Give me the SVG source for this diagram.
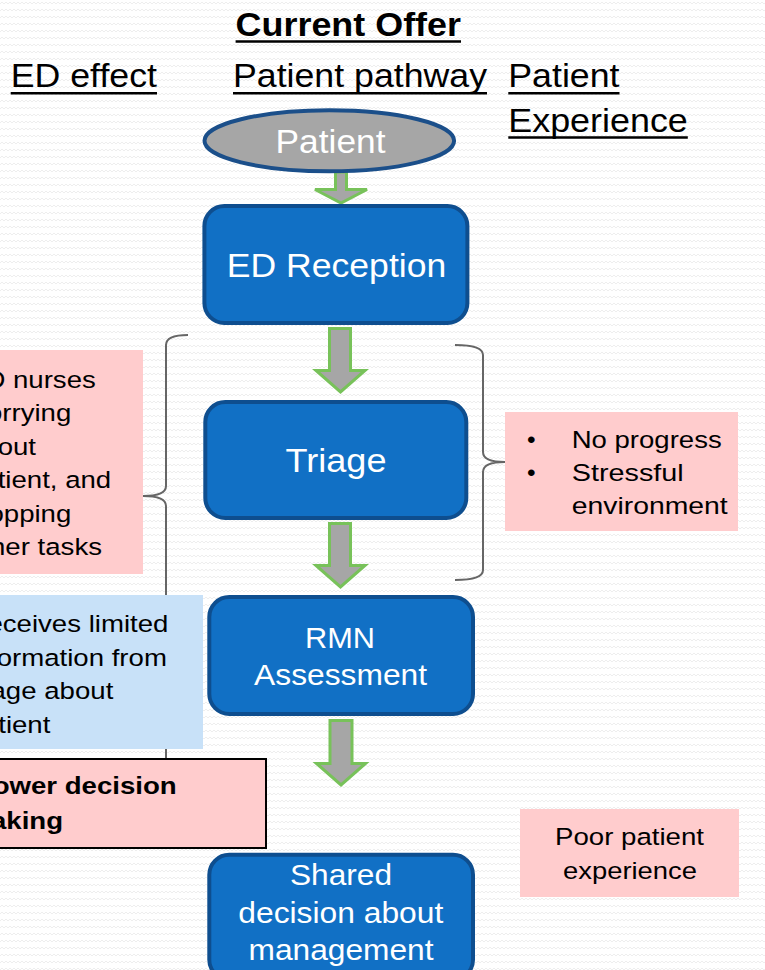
<svg xmlns="http://www.w3.org/2000/svg" width="765" height="970" viewBox="0 0 765 970">
  <defs>
    <pattern id="bgzz" x="0" y="0" width="8" height="7" patternUnits="userSpaceOnUse">
      <polyline points="0,4 2,2 4,4 6,2 8,4" fill="none" stroke="#eeeeee" stroke-width="1"/>
    </pattern>
    <style>
      text { font-family: "Liberation Sans", Arial, sans-serif; }
      .hdr { font-size: 34px; fill: #000; }
      .ul { stroke: #000; stroke-width: 2.6; }
      .node rect { fill: #1170C5; stroke: #0E4E8F; stroke-width: 4; }
      .ntx { font-size: 33px; fill: #fff; text-anchor: middle; }
      .ntx2 { font-size: 30px; fill: #fff; text-anchor: middle; }
      .body { font-size: 24.5px; fill: #000; }
      .pink { fill: #FFCCCD; }
      .blue { fill: #C8E1F8; }
      .arrow { fill: #A6A6A6; stroke: #78C25A; stroke-width: 3; stroke-linejoin: miter; }
      .brace { fill: none; stroke: #666; stroke-width: 2; }
    </style>
  </defs>

  <rect x="0" y="0" width="765" height="970" fill="#ffffff"/>
  <rect x="0" y="0" width="765" height="970" fill="url(#bgzz)"/>

  <g id="headers">
    <text class="hdr" x="235.6" y="36" font-weight="bold" textLength="225.4" lengthAdjust="spacingAndGlyphs">Current Offer</text>
    <line class="ul" x1="235.6" y1="41.5" x2="461" y2="41.5"/>
    <text class="hdr" x="10.7" y="87.3" textLength="146.3" lengthAdjust="spacingAndGlyphs">ED effect</text>
    <line class="ul" x1="10.7" y1="93.3" x2="157" y2="93.3"/>
    <text class="hdr" x="233" y="87.3" textLength="254" lengthAdjust="spacingAndGlyphs">Patient pathway</text>
    <line class="ul" x1="233" y1="93.3" x2="487" y2="93.3"/>
    <text class="hdr" x="508.3" y="87.3" textLength="111.2" lengthAdjust="spacingAndGlyphs">Patient</text>
    <line class="ul" x1="508.3" y1="93.3" x2="619.5" y2="93.3"/>
    <text class="hdr" x="508.3" y="131.7" textLength="179.5" lengthAdjust="spacingAndGlyphs">Experience</text>
    <line class="ul" x1="508.3" y1="137.5" x2="687.8" y2="137.5"/>
  </g>

  <g id="connectors">
    <path class="brace" d="M188,335 Q166,335 166,345 L166,486 Q166,496 143,496 Q166,496 166,506 L166,790 Q166,800 188,800"/>
    <path class="brace" d="M455,345 Q483,345 483,355 L483,452 Q483,462 505,462 Q483,462 483,472 L483,570 Q483,580 455,580"/>
    <path class="arrow" d="M335.5,172 L346.5,172 L346.5,189.5 L367,189.5 L341,203 L315,189.5 L335.5,189.5 Z"/>
    <path class="arrow" d="M329.5,328.5 L350.5,328.5 L350.5,370.5 L365,370.5 L340.5,392 L316,370.5 L329.5,370.5 Z"/>
    <path class="arrow" d="M329.5,523.5 L350.5,523.5 L350.5,565.5 L365,565.5 L340.5,587 L316,565.5 L329.5,565.5 Z"/>
    <path class="arrow" d="M330,720.5 L352,720.5 L352,763.5 L365.5,763.5 L341,785 L316.5,763.5 L330,763.5 Z"/>
  </g>

  <g id="patient" class="node">
    <ellipse cx="329.3" cy="140.8" rx="124.8" ry="30.5" fill="#A6A6A6" stroke="#1B4F8A" stroke-width="4"/>
    <text class="ntx" x="330.5" y="153" font-size="34" textLength="110" lengthAdjust="spacingAndGlyphs">Patient</text>
  </g>

  <g id="ed-reception" class="node">
    <rect x="204.4" y="206" width="263" height="117" rx="20" ry="20"/>
    <text class="ntx" x="336.5" y="277" textLength="219.5" lengthAdjust="spacingAndGlyphs">ED Reception</text>
  </g>

  <g id="triage" class="node">
    <rect x="205.3" y="402" width="261" height="116" rx="20" ry="20"/>
    <text class="ntx" x="336" y="472" textLength="101" lengthAdjust="spacingAndGlyphs">Triage</text>
  </g>

  <g id="rmn-assessment" class="node">
    <rect x="209.3" y="597" width="263.7" height="117" rx="20" ry="20"/>
    <text class="ntx2" x="340" y="648" textLength="70" lengthAdjust="spacingAndGlyphs">RMN</text>
    <text class="ntx2" x="340.6" y="685" textLength="173" lengthAdjust="spacingAndGlyphs">Assessment</text>
  </g>

  <g id="shared-decision" class="node">
    <rect x="209.3" y="854.7" width="263.7" height="125" rx="20" ry="20"/>
    <text class="ntx2" x="341" y="885" textLength="102" lengthAdjust="spacingAndGlyphs">Shared</text>
    <text class="ntx2" x="340.8" y="923" textLength="205" lengthAdjust="spacingAndGlyphs">decision about</text>
    <text class="ntx2" x="341" y="960" textLength="185" lengthAdjust="spacingAndGlyphs">management</text>
  </g>

  <g id="ed-nurses-worrying">
    <rect class="pink" x="-40" y="350" width="183" height="224"/>
    <text class="body" x="-33" y="388" textLength="128.8" lengthAdjust="spacingAndGlyphs">ED nurses</text>
    <text class="body" x="-33" y="421.4" textLength="104.3" lengthAdjust="spacingAndGlyphs">worrying</text>
    <text class="body" x="-33" y="454.8" textLength="69" lengthAdjust="spacingAndGlyphs">about</text>
    <text class="body" x="-33" y="488.2" textLength="144.2" lengthAdjust="spacingAndGlyphs">patient, and</text>
    <text class="body" x="-33" y="521.6" textLength="104.3" lengthAdjust="spacingAndGlyphs">stopping</text>
    <text class="body" x="-33" y="555" textLength="135" lengthAdjust="spacingAndGlyphs">other tasks</text>
  </g>

  <g id="receives-limited-info">
    <rect class="blue" x="-40" y="595" width="243" height="154"/>
    <text class="body" x="-32.5" y="632" textLength="200.9" lengthAdjust="spacingAndGlyphs">Receives limited</text>
    <text class="body" x="-32.5" y="665.5" textLength="199.4" lengthAdjust="spacingAndGlyphs">information from</text>
    <text class="body" x="-32.5" y="699" textLength="145.8" lengthAdjust="spacingAndGlyphs">triage about</text>
    <text class="body" x="-32.5" y="732.5" textLength="82.9" lengthAdjust="spacingAndGlyphs">patient</text>
  </g>

  <g id="lower-decision-making">
    <rect class="pink" x="-40" y="759" width="306" height="89" stroke="#000" stroke-width="2"/>
    <text class="body" x="-24.2" y="794" font-weight="bold" textLength="200.9" lengthAdjust="spacingAndGlyphs">Lower decision</text>
    <text class="body" x="-33.6" y="829" font-weight="bold" textLength="96.6" lengthAdjust="spacingAndGlyphs">making</text>
  </g>

  <g id="patient-experience-issues">
    <rect class="pink" x="505" y="412" width="233" height="119"/>
    <text class="body" x="527" y="448">•</text>
    <text class="body" x="527" y="481">•</text>
    <text class="body" x="571.7" y="448" textLength="150" lengthAdjust="spacingAndGlyphs">No progress</text>
    <text class="body" x="571.7" y="481" textLength="112" lengthAdjust="spacingAndGlyphs">Stressful</text>
    <text class="body" x="571.7" y="514" textLength="156" lengthAdjust="spacingAndGlyphs">environment</text>
  </g>

  <g id="poor-patient-experience">
    <rect class="pink" x="520" y="809" width="219" height="88"/>
    <text class="body" x="629.5" y="845" text-anchor="middle" textLength="149" lengthAdjust="spacingAndGlyphs">Poor patient</text>
    <text class="body" x="630" y="879" text-anchor="middle" textLength="134" lengthAdjust="spacingAndGlyphs">experience</text>
  </g>
</svg>
